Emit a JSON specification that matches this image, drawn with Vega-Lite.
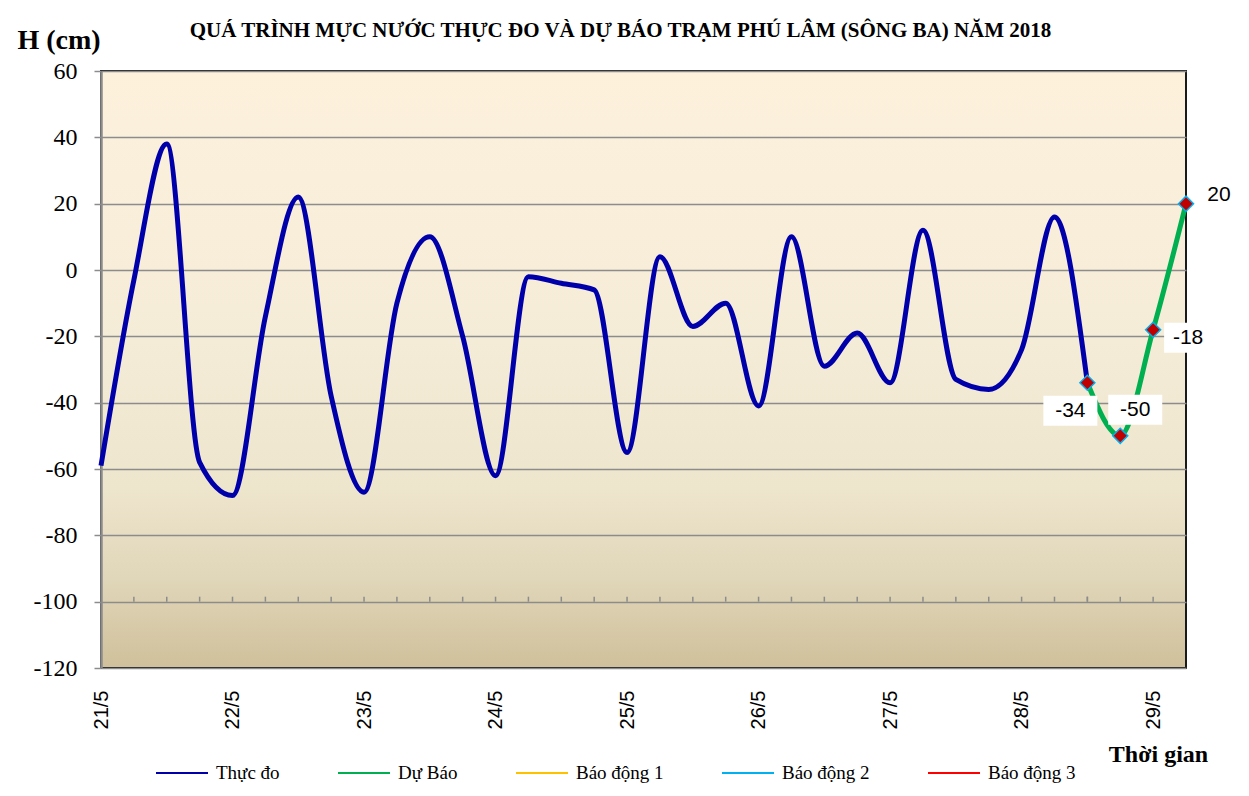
{
  "$schema": "https://vega.github.io/schema/vega-lite/v6.json",
  "width": 1085,
  "height": 597,
  "autosize": "none",
  "padding": {"left": 101, "top": 71, "right": 63, "bottom": 128},
  "background": "white",
  "title": {
    "text": "QUÁ TRÌNH MỰC NƯỚC THỰC ĐO VÀ DỰ BÁO TRẠM PHÚ LÂM (SÔNG BA) NĂM 2018",
    "frame": "group",
    "anchor": "middle",
    "dx": -23,
    "offset": -32,
    "baseline": "alphabetic",
    "font": "Liberation Serif",
    "fontSize": 21,
    "fontWeight": "bold",
    "color": "black"
  },
  "config": {
    "view": {
      "stroke": "#1a1a1a",
      "strokeWidth": 2,
      "fill": {
        "gradient": "linear",
        "x1": 0, "y1": 0, "x2": 0, "y2": 1,
        "stops": [
          {"offset": 0, "color": "#FDF1DC"},
          {"offset": 0.45, "color": "#F5ECD8"},
          {"offset": 0.7, "color": "#EEE5CD"},
          {"offset": 0.85, "color": "#E0D6B9"},
          {"offset": 1, "color": "#D0C09B"}
        ]
      }
    },
    "axisY": {
      "grid": true,
      "gridColor": "#8c8c8c",
      "gridWidth": 1.5,
      "domainColor": "#8c8c8c",
      "domainWidth": 2.5,
      "tickColor": "#8c8c8c",
      "tickSize": 7,
      "tickWidth": 1.5,
      "labelFont": "Liberation Serif",
      "labelFontSize": 24,
      "labelColor": "black",
      "labelPadding": 17,
      "titleAngle": 0,
      "titleX": -84,
      "titleY": -23,
      "titleAlign": "left",
      "titleBaseline": "alphabetic",
      "titleFont": "Liberation Serif",
      "titleFontSize": 28,
      "titleFontWeight": "bold",
      "titleColor": "black"
    },
    "axisX": {
      "labelAngle": 270,
      "labelFont": "Liberation Sans",
      "labelFontSize": 20,
      "labelColor": "black",
      "labelPadding": 22,
      "labelFlush": false,
      "labelOverlap": false,
      "ticks": false,
      "domain": false,
      "grid": false,
      "titleX": 1057,
      "titleY": 93,
      "titleAlign": "center",
      "titleBaseline": "alphabetic",
      "titleFont": "Liberation Serif",
      "titleFontSize": 24,
      "titleFontWeight": "bold",
      "titleColor": "black"
    }
  },
  "data": {
    "values": [
      {"s": "Thực đo", "t": "2018-05-21T00:00", "v": -59},
      {"s": "Thực đo", "t": "2018-05-21T06:00", "v": -3},
      {"s": "Thực đo", "t": "2018-05-21T12:00", "v": 38},
      {"s": "Thực đo", "t": "2018-05-21T18:00", "v": -58},
      {"s": "Thực đo", "t": "2018-05-22T00:00", "v": -68},
      {"s": "Thực đo", "t": "2018-05-22T06:00", "v": -14},
      {"s": "Thực đo", "t": "2018-05-22T12:00", "v": 22},
      {"s": "Thực đo", "t": "2018-05-22T18:00", "v": -38},
      {"s": "Thực đo", "t": "2018-05-23T00:00", "v": -67},
      {"s": "Thực đo", "t": "2018-05-23T06:00", "v": -10},
      {"s": "Thực đo", "t": "2018-05-23T12:00", "v": 10},
      {"s": "Thực đo", "t": "2018-05-23T18:00", "v": -20},
      {"s": "Thực đo", "t": "2018-05-24T00:00", "v": -62},
      {"s": "Thực đo", "t": "2018-05-24T06:00", "v": -2},
      {"s": "Thực đo", "t": "2018-05-24T12:00", "v": -4},
      {"s": "Thực đo", "t": "2018-05-24T18:00", "v": -6},
      {"s": "Thực đo", "t": "2018-05-25T00:00", "v": -55},
      {"s": "Thực đo", "t": "2018-05-25T06:00", "v": 4},
      {"s": "Thực đo", "t": "2018-05-25T12:00", "v": -17},
      {"s": "Thực đo", "t": "2018-05-25T18:00", "v": -10},
      {"s": "Thực đo", "t": "2018-05-26T00:00", "v": -41},
      {"s": "Thực đo", "t": "2018-05-26T06:00", "v": 10},
      {"s": "Thực đo", "t": "2018-05-26T12:00", "v": -29},
      {"s": "Thực đo", "t": "2018-05-26T18:00", "v": -19},
      {"s": "Thực đo", "t": "2018-05-27T00:00", "v": -34},
      {"s": "Thực đo", "t": "2018-05-27T06:00", "v": 12},
      {"s": "Thực đo", "t": "2018-05-27T12:00", "v": -33},
      {"s": "Thực đo", "t": "2018-05-27T18:00", "v": -36},
      {"s": "Thực đo", "t": "2018-05-28T00:00", "v": -24},
      {"s": "Thực đo", "t": "2018-05-28T06:00", "v": 16},
      {"s": "Thực đo", "t": "2018-05-28T12:00", "v": -34},
      {"s": "Dự Báo", "t": "2018-05-28T12:00", "v": -34},
      {"s": "Dự Báo", "t": "2018-05-28T18:00", "v": -50},
      {"s": "Dự Báo", "t": "2018-05-29T00:00", "v": -18},
      {"s": "Dự Báo", "t": "2018-05-29T06:00", "v": 20}
    ]
  },
  "encoding": {
    "x": {
      "field": "t",
      "type": "temporal",
      "scale": {
        "domain": [
          {"year": 2018, "month": 5, "date": 21, "hours": 0},
          {"year": 2018, "month": 5, "date": 29, "hours": 6}
        ],
        "nice": false
      },
      "axis": {
        "values": [
          {"year": 2018, "month": 5, "date": 21},
          {"year": 2018, "month": 5, "date": 22},
          {"year": 2018, "month": 5, "date": 23},
          {"year": 2018, "month": 5, "date": 24},
          {"year": 2018, "month": 5, "date": 25},
          {"year": 2018, "month": 5, "date": 26},
          {"year": 2018, "month": 5, "date": 27},
          {"year": 2018, "month": 5, "date": 28},
          {"year": 2018, "month": 5, "date": 29}
        ],
        "format": "%-d/%-m",
        "title": "Thời gian"
      }
    },
    "y": {
      "field": "v",
      "type": "quantitative",
      "scale": {"domain": [-120, 60], "nice": false, "zero": false},
      "axis": {
        "values": [-120, -100, -80, -60, -40, -20, 0, 20, 40, 60],
        "labelExpr": "toString(datum.value)",
        "labelFont": "Liberation Serif",
        "title": "H (cm)"
      }
    }
  },
  "layer": [
    {
      "mark": {"type": "line", "interpolate": "monotone", "strokeWidth": 5},
      "encoding": {
        "color": {
          "field": "s",
          "type": "nominal",
          "scale": {
            "domain": ["Thực đo", "Dự Báo", "Báo động 1", "Báo động 2", "Báo động 3"],
            "range": ["#0000AA", "#00B050", "#FFC000", "#00B0F0", "#FF0000"]
          },
          "legend": {
            "orient": "none",
            "legendX": 54,
            "legendY": 675,
            "direction": "horizontal",
            "columns": 5,
            "columnPadding": 54,
            "title": null,
            "symbolType": "stroke",
            "symbolSize": 2704,
            "symbolStrokeWidth": 2,
            "labelFont": "Liberation Serif",
            "labelFontSize": 19,
            "labelColor": "black",
            "labelOffset": 7
          }
        },
        "detail": {"field": "s"}
      }
    },
    {
      "transform": [
        {"filter": "time(toDate(datum.t)) > time(datetime(2018,4,21,0,0)) && time(toDate(datum.t)) < time(datetime(2018,4,29,6,0))"}
      ],
      "mark": {"type": "rule", "color": "#8c8c8c", "strokeWidth": 1.5},
      "encoding": {
        "y": {"datum": -100, "type": "quantitative"},
        "y2": {"datum": -98.5}
      }
    },
    {
      "transform": [{"filter": "datum.s == 'Dự Báo'"}],
      "mark": {"type": "point", "shape": "diamond", "size": 225, "filled": true, "fill": "#C00000", "stroke": "#00B0F0", "strokeWidth": 1.5, "opacity": 1}
    },
    {
      "transform": [{"filter": "datum.s == 'Dự Báo' && datum.v == -34"}],
      "layer": [
        {"mark": {"type": "point", "shape": "M-1.35,-0.75H1.35V0.75H-1.35Z", "size": 1600, "filled": true, "color": "white", "opacity": 1, "xOffset": -17, "yOffset": 28}},
        {"mark": {"type": "text", "dx": -17, "dy": 28, "font": "Liberation Sans", "fontSize": 21, "color": "black"}, "encoding": {"text": {"field": "v", "type": "nominal"}}}
      ]
    },
    {
      "transform": [{"filter": "datum.s == 'Dự Báo' && datum.v == -50"}],
      "layer": [
        {"mark": {"type": "point", "shape": "M-1.35,-0.75H1.35V0.75H-1.35Z", "size": 1600, "filled": true, "color": "white", "opacity": 1, "xOffset": 15, "yOffset": -26}},
        {"mark": {"type": "text", "dx": 15, "dy": -26, "font": "Liberation Sans", "fontSize": 21, "color": "black"}, "encoding": {"text": {"field": "v", "type": "nominal"}}}
      ]
    },
    {
      "transform": [{"filter": "datum.s == 'Dự Báo' && datum.v == -18"}],
      "layer": [
        {"mark": {"type": "point", "shape": "M-1.2,-0.75H1.2V0.75H-1.2Z", "size": 1600, "filled": true, "color": "white", "opacity": 1, "xOffset": 35, "yOffset": 8}},
        {"mark": {"type": "text", "dx": 35, "dy": 8, "font": "Liberation Sans", "fontSize": 21, "color": "black"}, "encoding": {"text": {"field": "v", "type": "nominal"}}}
      ]
    },
    {
      "transform": [{"filter": "datum.s == 'Dự Báo' && datum.v == 20"}],
      "mark": {"type": "text", "dx": 33, "dy": -9, "font": "Liberation Sans", "fontSize": 21, "color": "black"},
      "encoding": {"text": {"field": "v", "type": "nominal"}}
    }
  ]
}
